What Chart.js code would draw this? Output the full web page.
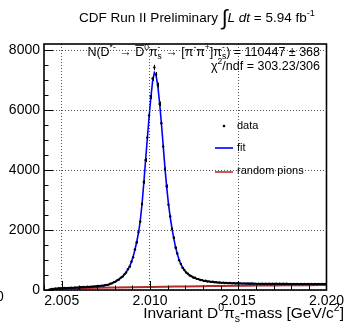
<!DOCTYPE html>
<html>
<head>
<meta charset="utf-8">
<script src="https://cdn.jsdelivr.net/npm/chart.js@4/dist/chart.umd.min.js"></script>
<style>
  html, body { margin: 0; padding: 0; background: #fff; }
  #wrap { width: 347px; height: 328px; position: relative; }
</style>
</head>
<body>
<div id="wrap"><canvas id="c"></canvas></div>
<script>
// histogram binning (GeV/c^2)
const binLow = 2.004;
const binWidth = 0.0001;

// candidates per bin
const counts = [
  null, null, null, 12, 34, 36, 48, 45, 57, 54,
  62, 66, 61, 70, 66, 75, 72, 81, 79, 84,
  94, 90, 99, 95, 107, 103, 113, 110, 122, 119,
  132, 130, 146, 143, 158, 170, 176, 206, 221, 262,
  280, 328, 352, 414, 447, 522, 584, 691, 780, 945,
  1095, 1355, 1590, 1930, 2280, 2870, 3600, 4330, 5080, 5820,
  6450, 7050, 7420, 7180, 6830, 6200, 5560, 4780, 4030, 3460,
  2840, 2450, 2030, 1740, 1410, 1215, 995, 872, 738, 668,
  582, 541, 484, 462, 418, 407, 372, 364, 333, 330,
  304, 306, 285, 288, 270, 273, 258, 260, 246, 252,
  238, 245, 233, 238, 228, 233, 222, 229, 219, 225,
  216, 222, 213, 220, 211, 218, 209, 216, 207, 214,
  205, 212, 204, 210, 203, 210, 201, 209, 200, 208,
  200, 208, 199, 207, 198, 206, 198, 206, 197, 205,
  197, 205, 196, 204, 196, 204, 195, 205, 196, 204,
  195, 205, 196, 204, 195, 205, 196, 204, 197, 203
];

// fit curve at the bin centres
const fitValues = [
  null, null, 0, 18, 30, 38, 44, 49, 53, 56,
  59, 62, 64, 66, 68, 71, 74, 77, 81, 85,
  89, 93, 96, 99, 102, 106, 110, 114, 118, 123,
  128, 134, 140, 147, 155, 165, 180, 200, 225, 255,
  285, 320, 360, 405, 455, 515, 590, 680, 790, 930,
  1110, 1340, 1600, 1900, 2300, 2850, 3550, 4300, 5030, 5750,
  6400, 6950, 7250, 7150, 6780, 6220, 5550, 4820, 4080, 3420,
  2870, 2420, 2050, 1720, 1430, 1200, 1010, 860, 750, 660,
  590, 535, 490, 455, 425, 400, 378, 358, 340, 324,
  310, 300, 290, 282, 275, 268, 262, 256, 251, 247,
  243, 240, 237, 234, 231, 229, 227, 225, 223, 221,
  220, 218, 217, 216, 215, 214, 213, 212, 211, 210,
  209, 208, 208, 207, 207, 206, 206, 205, 205, 204,
  204, 204, 203, 203, 203, 202, 202, 202, 202, 201,
  201, 201, 201, 200, 200, 200, 200, 200, 200, 200,
  200, 200, 200, 200, 200, 200, 200, 200, 200, 200
];

// random pions background
const bgMass = [2.0042, 2.0043, 2.0045, 2.0047, 2.0050, 2.0055, 2.0060, 2.0070, 2.0080, 2.0090,
  2.0100, 2.0110, 2.0120, 2.0130, 2.0140, 2.0150, 2.0160, 2.0170, 2.0180, 2.0190, 2.0200];
const bgValues = [0, 14, 24, 31, 39, 50, 58, 72, 84, 95,
  104, 112, 120, 127, 134, 140, 146, 152, 157, 162, 166];

const xTicks = [2.005, 2.010, 2.015, 2.020];
const yTicks = [0, 2000, 4000, 6000, 8000];

const binCenters = counts.map((_, i) => binLow + (i + 0.5) * binWidth);
const FONT = '"Liberation Sans", Arial, Helvetica, sans-serif';

function richText(ctx, parts, x, y, size, align) {
  const small = size * 0.68;
  const f = (s, it) => (it ? 'italic ' : '') + s + 'px ' + FONT;
  const measure = ([t, k]) => {
    if (k === 'sup' || k === 'sub') { ctx.font = f(small); return ctx.measureText(t).width; }
    if (k === 'ss') { ctx.font = f(small); return Math.max(...t.split('|').map(s => ctx.measureText(s).width)); }
    if (k === 'int') { ctx.font = f(size * 1.6); return ctx.measureText(t).width; }
    ctx.font = f(size, k === 'it');
    return ctx.measureText(t).width;
  };
  const total = parts.reduce((s, p) => s + measure(p), 0);
  let cx = align === 'right' ? x - total : align === 'center' ? x - total / 2 : x;
  ctx.textAlign = 'left';
  ctx.textBaseline = 'alphabetic';
  ctx.fillStyle = '#000';
  parts.forEach(p => {
    const [t, k] = p;
    const w = measure(p);
    if (k === 'sup') ctx.fillText(t, cx, y - size * 0.42);
    else if (k === 'sub') ctx.fillText(t, cx, y + size * 0.24);
    else if (k === 'ss') {
      const [lo, hi] = t.split('|');
      ctx.fillText(lo, cx, y + size * 0.24);
      ctx.fillText(hi, cx, y - size * 0.42);
    } else if (k === 'int') ctx.fillText(t, cx, y + size * 0.22);
    else {
      ctx.fillText(t, cx, y);
      if (k === 'bar') {
        ctx.fillRect(cx, y - size * 0.86, w, 1);
      }
    }
    cx += w;
  });
}

const errorBars = {
  id: 'errorBars',
  afterDatasetsDraw(chart) {
    const { ctx, chartArea: a, scales: { x, y } } = chart;
    ctx.save();
    ctx.beginPath();
    ctx.rect(a.left, a.top, a.width, a.height);
    ctx.clip();
    ctx.strokeStyle = '#000';
    ctx.lineWidth = 1;
    ctx.beginPath();
    counts.forEach((v, i) => {
      if (v == null) return;
      const px = Math.round(x.getPixelForValue(binCenters[i])) + 0.5;
      const e = Math.sqrt(v);
      ctx.moveTo(px, y.getPixelForValue(v - e));
      ctx.lineTo(px, y.getPixelForValue(v + e));
    });
    ctx.stroke();
    ctx.restore();
  }
};

const decorations = {
  id: 'decorations',
  afterDraw(chart) {
    const { ctx, chartArea: a, scales: { x, y } } = chart;
    ctx.save();
    ctx.strokeStyle = '#000';
    ctx.lineWidth = 1;
    ctx.beginPath();
    // y ticks, minor every 500
    for (let v = 0; v <= 8000; v += 500) {
      const py = Math.round(y.getPixelForValue(v)) + 0.5;
      const len = v % 2000 === 0 ? 9 : 4.5;
      ctx.moveTo(a.left, py);
      ctx.lineTo(a.left + len, py);
    }
    // x ticks, minor every 0.001
    for (let k = 4; k <= 20; k++) {
      const px = Math.round(x.getPixelForValue(2 + k / 1000)) + 0.5;
      const len = k % 5 === 0 ? 9 : 4.5;
      ctx.moveTo(px, a.bottom);
      ctx.lineTo(px, a.bottom - len);
    }
    ctx.stroke();

    // frame
    ctx.lineWidth = 1.6;
    ctx.strokeRect(a.left, a.top, a.width, a.height);

    // legend
    ctx.fillStyle = '#000';
    ctx.beginPath();
    ctx.arc(224, 126, 1.3, 0, Math.PI * 2);
    ctx.fill();
    ctx.lineWidth = 1.6;
    ctx.strokeStyle = '#0000ff';
    ctx.beginPath(); ctx.moveTo(215, 148); ctx.lineTo(233, 148); ctx.stroke();
    ctx.lineWidth = 2;
    ctx.strokeStyle = '#d05858';
    ctx.beginPath(); ctx.moveTo(215, 172); ctx.lineTo(233, 172); ctx.stroke();
    ctx.font = '11px ' + FONT;
    ctx.textBaseline = 'middle';
    ctx.textAlign = 'left';
    chart.data.datasets.forEach((d, i) => ctx.fillText(d.label, 237, [126, 148, 171][i]));

    // title
    richText(ctx, [
      ['CDF Run II Preliminary ', ''], ['\u222B', 'int'], ['L dt', 'it'],
      [' = 5.94 fb', ''], ['-1', 'sup']
    ], 197, 22, 13.5, 'center');

    // fit results
    richText(ctx, [
      ['N(D', ''], ['*-', 'sup'], [' \u2192 ', ''], ['D', 'bar'], ['0', 'sup'],
      ['\u03C0', ''], ['s|-', 'ss'], [' \u2192 [', ''], ['\u03C0', ''], ['-', 'sup'],
      ['\u03C0', ''], ['+', 'sup'], [']\u03C0', ''], ['s|-', 'ss'],
      [') = 110447 \u00B1 368', '']
    ], 320, 55.5, 12.5, 'right');
    richText(ctx, [['\u03C7', ''], ['2', 'sup'], ['/ndf = 303.23/306', '']], 320, 69.5, 12.5, 'right');

    // axis title
    richText(ctx, [
      ['Invariant D', ''], ['0', 'sup'], ['\u03C0', ''], ['s', 'sub'],
      ['-mass [GeV/c', ''], ['2', 'sup'], [']', '']
    ], 344, 318, 15.5, 'right');

    // clipped label at the far left
    ctx.font = '14px ' + FONT;
    ctx.textBaseline = 'middle';
    ctx.fillText('0', -4, 297);
    ctx.restore();
  }
};

const gridStyle = { color: '#555', lineWidth: 1, drawTicks: false };

new Chart(document.getElementById('c'), {
  type: 'scatter',
  data: {
    datasets: [
      {
        label: 'data',
        data: counts.map((v, i) => ({ x: binCenters[i], y: v })).filter(p => p.y != null),
        pointRadius: 1.2,
        pointBackgroundColor: '#000',
        pointBorderWidth: 0,
        order: 0
      },
      {
        label: 'fit',
        data: fitValues.map((v, i) => ({ x: binCenters[i], y: v })).filter(p => p.y != null),
        showLine: true,
        borderColor: '#0000ff',
        borderWidth: 1.6,
        pointRadius: 0,
        order: 1
      },
      {
        label: 'random pions',
        data: bgMass.map((m, i) => ({ x: m, y: bgValues[i] })),
        showLine: true,
        borderColor: '#b52a2a',
        borderWidth: 2,
        pointRadius: 0,
        cubicInterpolationMode: 'monotone',
        order: 2
      }
    ]
  },
  options: {
    responsive: true,
    maintainAspectRatio: false,
    animation: false,
    layout: { padding: { top: 44, right: 20, left: 0, bottom: 0 } },
    plugins: {
      legend: { display: false },
      tooltip: { enabled: false }
    },
    scales: {
      x: {
        type: 'linear',
        min: 2.004,
        max: 2.020,
        afterBuildTicks: s => { s.ticks = xTicks.map(v => ({ value: v })); },
        afterFit: s => { s.height = 38; },
        ticks: {
          callback: v => v.toFixed(3),
          font: { family: FONT, size: 14 },
          color: '#000',
          padding: 3,
          maxRotation: 0,
          autoSkip: false
        },
        grid: gridStyle,
        border: { display: false, dash: [1, 2] }
      },
      y: {
        min: 0,
        max: 8200,
        afterBuildTicks: s => { s.ticks = yTicks.map(v => ({ value: v })); },
        afterFit: s => { s.width = 44; },
        ticks: {
          callback: v => String(v),
          font: { family: FONT, size: 14 },
          color: '#000',
          padding: 4
        },
        grid: gridStyle,
        border: { display: false, dash: [1, 2] }
      }
    }
  },
  plugins: [errorBars, decorations]
});
</script>
</body>
</html>
